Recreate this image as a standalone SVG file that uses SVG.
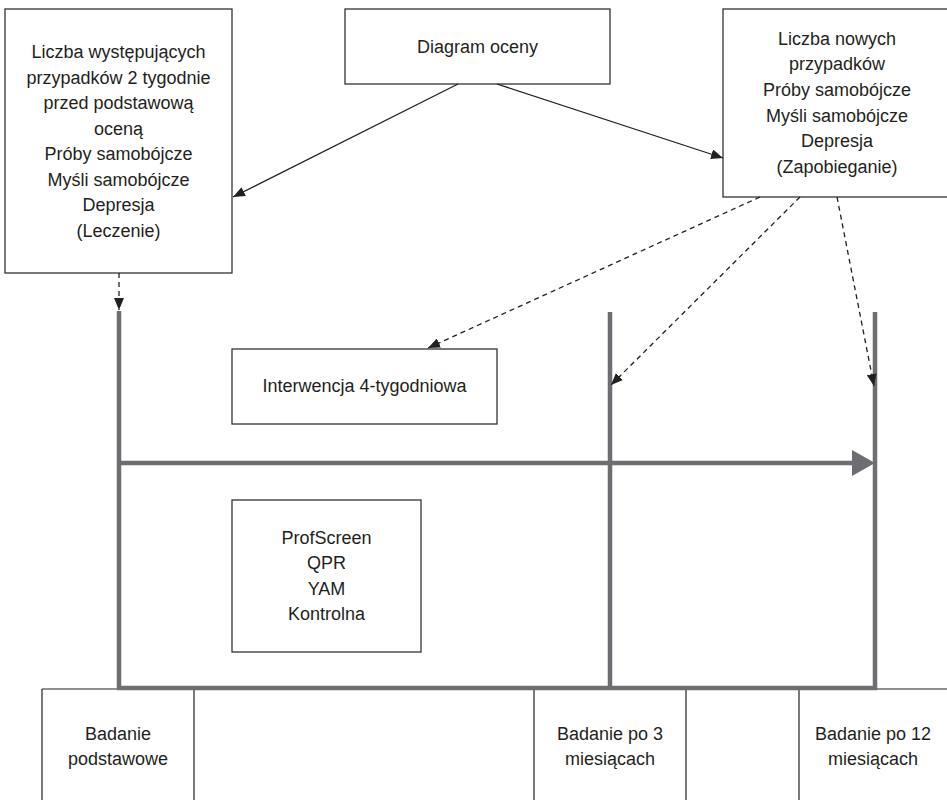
<svg xmlns="http://www.w3.org/2000/svg" width="947" height="800" viewBox="0 0 947 800">
<style>
.box{fill:#fff;stroke:#333;stroke-width:1.3}
.t{font-family:"Liberation Sans",Arial,sans-serif;font-size:18px;fill:#231f20;text-anchor:middle}
.solid{stroke:#231f20;stroke-width:1.3;fill:none}
.dash{stroke:#231f20;stroke-width:1.3;fill:none;stroke-dasharray:5 4}
.thick{stroke:#6d6e71;stroke-width:4.5;fill:none}
.cell{stroke:#231f20;stroke-width:1.2;fill:none}
</style>
<defs>
<marker id="ah" viewBox="0 0 12 10" refX="12" refY="5" markerWidth="12" markerHeight="10" markerUnits="userSpaceOnUse" orient="auto">
<path d="M0,0 L12,5 L0,10 z" fill="#231f20"/>
</marker>
</defs>
<rect width="947" height="800" fill="#fff"/>

<g id="table">
<line class="cell" x1="42" y1="689" x2="947" y2="689"/>
<line class="cell" x1="42" y1="689" x2="42" y2="800"/>
<line class="cell" x1="194" y1="689" x2="194" y2="800"/>
<line class="cell" x1="534" y1="689" x2="534" y2="800"/>
<line class="cell" x1="686" y1="689" x2="686" y2="800"/>
<line class="cell" x1="799" y1="689" x2="799" y2="800"/>
<text class="t" x="118" y="740">Badanie</text>
<text class="t" x="118" y="765">podstawowe</text>
<text class="t" x="610" y="740">Badanie po 3</text>
<text class="t" x="610" y="765">miesiącach</text>
<text class="t" x="873" y="740">Badanie po 12</text>
<text class="t" x="873" y="765">miesiącach</text>
</g>

<g id="timeline">
<line class="thick" x1="119" y1="311" x2="119" y2="688"/>
<line class="thick" x1="610" y1="312" x2="610" y2="688"/>
<line class="thick" x1="875" y1="312" x2="875" y2="690"/>
<line class="thick" x1="117" y1="688" x2="877" y2="688"/>
<line class="thick" x1="119" y1="463" x2="855" y2="463"/>
<polygon points="852,450 875,463 852,476" fill="#6d6e71"/>
</g>

<g id="n-left">
<rect class="box" x="5" y="9" width="227" height="264"/>
<text class="t" x="118.5" y="58">Liczba występujących</text>
<text class="t" x="118.5" y="83.5">przypadków 2 tygodnie</text>
<text class="t" x="118.5" y="109">przed podstawową</text>
<text class="t" x="118.5" y="134.5">oceną</text>
<text class="t" x="118.5" y="160">Próby samobójcze</text>
<text class="t" x="118.5" y="185.5">Myśli samobójcze</text>
<text class="t" x="118.5" y="211">Depresja</text>
<text class="t" x="118.5" y="236.5">(Leczenie)</text>
</g>

<g id="n-diagram">
<rect class="box" x="345" y="9" width="265" height="75"/>
<text class="t" x="477.5" y="53">Diagram oceny</text>
</g>

<g id="n-right">
<rect class="box" x="723" y="9" width="230" height="188"/>
<text class="t" x="837" y="44.5">Liczba nowych</text>
<text class="t" x="837" y="70">przypadków</text>
<text class="t" x="837" y="96">Próby samobójcze</text>
<text class="t" x="837" y="121.5">Myśli samobójcze</text>
<text class="t" x="837" y="147">Depresja</text>
<text class="t" x="837" y="172.5">(Zapobieganie)</text>
</g>

<g id="n-interwencja">
<rect class="box" x="232" y="349" width="265" height="75"/>
<text class="t" x="364.5" y="392">Interwencja 4-tygodniowa</text>
</g>

<g id="n-groups">
<rect class="box" x="232" y="500" width="189" height="152"/>
<text class="t" x="326.5" y="543.5">ProfScreen</text>
<text class="t" x="326.5" y="569">QPR</text>
<text class="t" x="326.5" y="594.5">YAM</text>
<text class="t" x="326.5" y="620">Kontrolna</text>
</g>

<g id="connectors">
<line class="solid" x1="458" y1="84" x2="233" y2="197" marker-end="url(#ah)"/>
<line class="solid" x1="497" y1="84" x2="723" y2="158" marker-end="url(#ah)"/>
<line class="dash" x1="119" y1="273" x2="119" y2="310" marker-end="url(#ah)"/>
<line class="dash" x1="760" y1="197" x2="428" y2="348" marker-end="url(#ah)"/>
<line class="dash" x1="800" y1="197" x2="611" y2="385" marker-end="url(#ah)"/>
<line class="dash" x1="837" y1="197" x2="874" y2="386" marker-end="url(#ah)"/>
</g>
</svg>
